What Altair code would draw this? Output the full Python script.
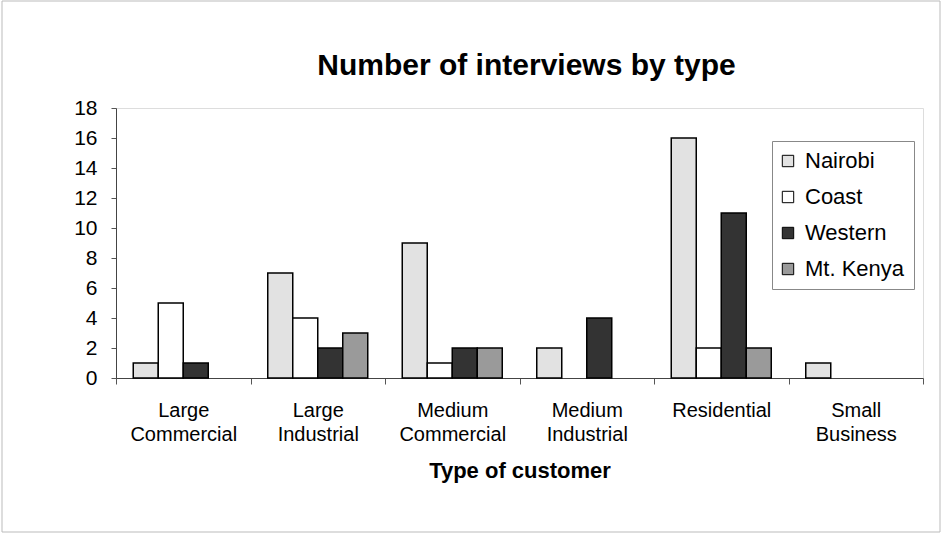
import altair as alt
import pandas as pd

categories = ["Large Commercial", "Large Industrial", "Medium Commercial",
              "Medium Industrial", "Residential", "Small Business"]
regions = ["Nairobi", "Coast", "Western", "Mt. Kenya"]
nairobi = [1, 7, 9, 2, 16, 1]
coast = [5, 4, 1, 0, 2, 0]
western = [1, 2, 2, 4, 11, 0]
mt_kenya = [0, 3, 2, 0, 2, 0]
y_ticks = [0, 2, 4, 6, 8, 10, 12, 14, 16, 18]
colors = ["#e2e2e2", "#ffffff", "#333333", "#9a9a9a"]

rows = []
for r, vals in zip(regions, [nairobi, coast, western, mt_kenya]):
    for c, v in zip(categories, vals):
        if v > 0:
            rows.append({"category": c, "region": r, "count": v})
df = pd.DataFrame(rows)

FONT = "Liberation Sans"

bars = alt.Chart(df).mark_bar(stroke="black", strokeWidth=1.5).encode(
    x=alt.X("category:N", sort=categories,
            scale=alt.Scale(domain=categories, paddingInner=0, paddingOuter=0),
            axis=alt.Axis(title="Type of customer", labelAngle=0,
                          labelExpr="split(datum.label, ' ')",
                          labelLineHeight=24, labelFontSize=20, labelPadding=16,
                          tickBand="extent", tickSize=6, tickColor="#555",
                          domainColor="#444", labelColor="black",
                          titleFontSize=22, titleFontWeight="bold",
                          titlePadding=16, titleColor="black",
                          labelFont=FONT, titleFont=FONT)),
    xOffset=alt.XOffset("region:N", sort=regions,
                        scale=alt.Scale(domain=regions, paddingInner=0, paddingOuter=0.69)),
    y=alt.Y("count:Q", scale=alt.Scale(domain=[0, 18], nice=False),
            axis=alt.Axis(values=y_ticks, title=None, grid=False,
                          labelFontSize=21, labelPadding=14, tickSize=5,
                          tickColor="#555", domainColor="#444",
                          labelColor="black", labelFont=FONT)),
    color=alt.Color("region:N", sort=regions,
                    scale=alt.Scale(domain=regions, range=colors),
                    legend=alt.Legend(title=None, orient="none",
                                      legendX=656, legendY=33,
                                      strokeColor="#888", padding=9,
                                      labelFontSize=22, labelFont=FONT,
                                      labelColor="black", labelOffset=6,
                                      symbolOffset=-4,
                                      symbolType="square", symbolSize=130,
                                      symbolStrokeColor="black",
                                      symbolStrokeWidth=1, rowPadding=14)),
)

frame = alt.Chart(pd.DataFrame({"a": [0]})).mark_rect(
    fill=None, stroke="#bbbbbb", strokeWidth=1
).encode(x=alt.value(-114), x2=alt.value(824), y=alt.value(-107), y2=alt.value(424))

chart = alt.layer(bars, frame).properties(
    width=807, height=270,
    title=alt.TitleParams("Number of interviews by type", fontSize=30,
                          fontWeight="bold", font=FONT, anchor="middle",
                          baseline="alphabetic", offset=-104, dx=7, color="black"),
    padding={"left": 116, "top": 108, "right": 19, "bottom": 156},
    autosize=alt.AutoSizeParams(type="none"),
).configure_view(stroke="#999999", strokeWidth=1).configure(background="white")

chart.save("out.html", embed_options={"renderer": "svg", "actions": False})
